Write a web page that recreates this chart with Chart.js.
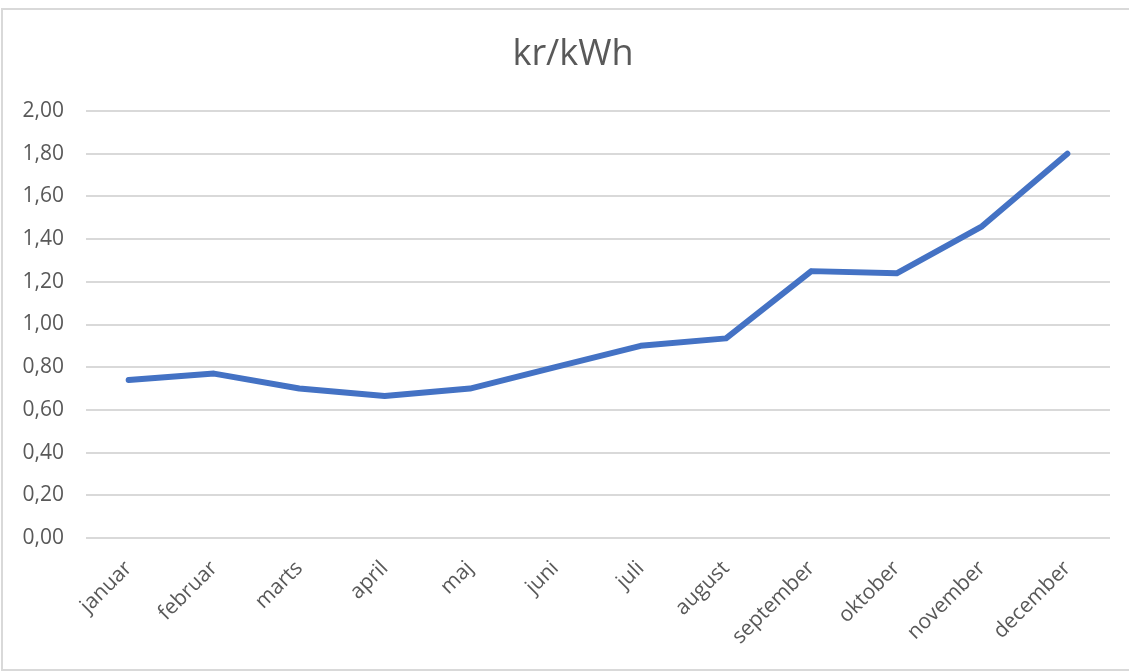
<!DOCTYPE html>
<html>
<head>
<meta charset="utf-8">
<script src="https://cdn.jsdelivr.net/npm/chart.js@4.4.1/dist/chart.umd.min.js"></script>
<style>
html,body{margin:0;padding:0;background:#fff;}
#wrap{position:absolute;left:0;top:0;width:1129px;height:672px;}
#frame{position:absolute;left:1px;top:8px;width:1140px;height:659px;border:2px solid #d9d9d9;box-sizing:content-box;pointer-events:none;}
canvas{position:absolute;left:0;top:0;}
</style>
</head>
<body>
<div id="wrap"><canvas id="c" width="1129" height="672"></canvas></div>
<div id="frame"></div>
<script>
const categories = ["januar","februar","marts","april","maj","juni","juli","august","september","oktober","november","december"];
const prices = [0.74, 0.77, 0.70, 0.665, 0.70, 0.80, 0.90, 0.935, 1.25, 1.24, 1.46, 1.80];
const yMin = 0, yMax = 2.0, yStep = 0.2;
const titleText = "kr/kWh";

const FONT = "'Open Sans', 'Noto Sans', sans-serif";

const titlePlugin = {
  id: 'offsetTitle',
  afterDraw(chart) {
    const ctx = chart.ctx;
    ctx.save();
    ctx.font = "36px " + FONT;
    ctx.fillStyle = '#595959';
    ctx.textAlign = 'center';
    ctx.textBaseline = 'alphabetic';
    ctx.fillText(titleText, 573, 65);
    ctx.restore();
  }
};

new Chart(document.getElementById('c'), {
  type: 'line',
  data: {
    labels: categories,
    datasets: [{
      label: titleText,
      data: prices,
      borderColor: '#4472C4',
      backgroundColor: '#4472C4',
      borderWidth: 6,
      pointRadius: 0,
      tension: 0,
      borderCapStyle: 'round',
      borderJoinStyle: 'round'
    }]
  },
  plugins: [titlePlugin],
  options: {
    responsive: false,
    animation: false,
    devicePixelRatio: 1,
    layout: { padding: { left: 0, right: 19, top: 111, bottom: 0 } },
    plugins: {
      legend: { display: false },
      tooltip: { enabled: false },
      title: { display: false }
    },
    scales: {
      x: {
        offset: true,
        grid: { display: false, drawTicks: false },
        border: { display: false },
        ticks: {
          color: '#595959',
          font: { family: FONT, size: 21 },
          maxRotation: 45, minRotation: 45,
          padding: 18,
          autoSkip: false
        },
        afterFit(s) { s.height = 134; }
      },
      y: {
        min: yMin, max: yMax,
        grid: { color: '#d9d9d9', lineWidth: 2, drawTicks: false },
        border: { display: false },
        ticks: {
          stepSize: yStep,
          color: '#595959',
          font: { family: FONT, size: 21 },
          padding: 22,
          callback: v => v.toFixed(2).replace('.', ',')
        },
        afterFit(s) { s.width = 86; }
      }
    }
  }
});
</script>
</body>
</html>
